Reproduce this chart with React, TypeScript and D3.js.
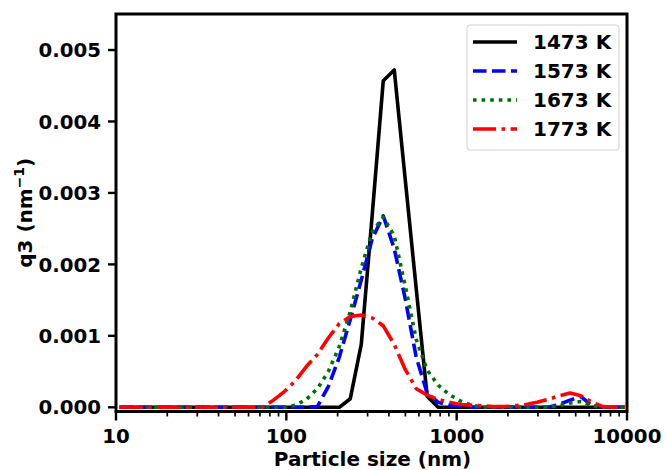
import React from "react";
import * as d3 from "d3";

// Particle sizes (nm) of the measurement bins
const sizes = [10.5, 12.18, 14.13, 16.39, 19.01, 22.06, 25.59, 29.69, 34.43, 39.95, 46.34, 53.77, 62.37, 72.36, 83.95, 97.39, 113.0, 131.1, 152.1, 176.4, 204.6, 237.4, 275.4, 319.5, 370.7, 430.1, 498.9, 578.8, 671.4, 778.9, 903.6, 1048, 1216, 1411, 1637, 1899, 2203, 2556, 2965, 3440, 3990, 4629, 5370, 6230, 7228, 8385, 9727];

const q1473 = [0, 0, 0, 0, 0, 0, 0, 0, 0, 0, 0, 0, 0, 0, 0, 0, 0, 0, 0, 0, 0, 0.00012, 0.00088, 0.0027, 0.00457, 0.00472, 0.00319, 0.00166, 0.00015, 0, 0, 0, 0, 0, 0, 0, 0, 0, 0, 0, 0, 0, 0, 0, 0, 0, 0];
const q1573 = [0, 0, 0, 0, 0, 0, 0, 0, 0, 0, 0, 0, 0, 0, 0, 0, 0, 0, 0.00001, 0.00029, 0.0007, 0.00123, 0.00178, 0.00236, 0.00268, 0.00222, 0.00152, 0.0007, 0.0002, 0.00007, 0.00003, 0.00001, 0, 0, 0, 0, 0, 0, 0, 0, 0.00004, 0.0001, 0.00015, 0.00002, 0, 0, 0];
const q1673 = [0, 0, 0, 0, 0, 0, 0, 0, 0, 0, 0, 0, 0, 0, 0, 0, 0.00003, 0.00011, 0.00026, 0.0005, 0.00085, 0.00134, 0.00195, 0.00246, 0.00266, 0.0024, 0.0017, 0.00095, 0.00052, 0.00031, 0.00018, 0.00009, 0.00003, 0, 0, 0, 0, 0, 0, 0, 0.00002, 0.00006, 0.00008, 0.00002, 0, 0, 0];
const q1773 = [0, 0, 0, 0, 0, 0, 0, 0, 0, 0, 0, 0, 0, 0, 0.0001, 0.00022, 0.00037, 0.00057, 0.00074, 0.00097, 0.00117, 0.00127, 0.00129, 0.00125, 0.00114, 0.00088, 0.00053, 0.00026, 0.00017, 0.00011, 0.00007, 0.00004, 0.00003, 0.00002, 0.00001, 0.00001, 0.00002, 0.00004, 0.00007, 0.00011, 0.00016, 0.0002, 0.00016, 0.00007, 0.00001, 0, 0];

const seriesNames = ["1473 K", "1573 K", "1673 K", "1773 K"];
const yTicks = [0, 0.001, 0.002, 0.003, 0.004, 0.005];
const xTicks = [10, 100, 1000, 10000];

const styles = [
  { color: "#000000", dash: "" },
  { color: "#0000ff", dash: "13.5,5.5" },
  { color: "#007000", dash: "3.6,5" },
  { color: "#ff0000", dash: "23,5.5,3.6,5.5" },
];

const W = 667, H = 470;
const L = 116, R = 627, T = 14, B = 411.5;
const FONT = "'DejaVu Sans', sans-serif";
const LW = 3.6;

export default function App() {
  const x = d3.scaleLog().domain([10, 10000]).range([L, R]);
  const y = d3.scaleLinear().domain([-0.0000588, 0.005504]).range([B, T]);
  const all = [q1473, q1573, q1673, q1773];
  const line = d3
    .line<number>()
    .x((_, i) => x(sizes[i]))
    .y((v) => y(v));

  const minor: number[] = [];
  for (let dec = 10; dec < 10000; dec *= 10) {
    for (let k = 2; k <= 9; k++) minor.push(dec * k);
  }

  const legX = 467, legY = 25, legW = 152, legH = 125;
  const rowY = [42, 71, 100, 129];

  return (
    <svg
      width={W}
      height={H}
      style={{ position: "fixed", left: 0, top: 0, background: "#fff" }}
      fontFamily={FONT}
      fontWeight="bold"
    >
      <rect x={0} y={0} width={W} height={H} fill="#fff" />
      {all.map((s, i) => (
        <path
          key={i}
          d={line(s) || ""}
          fill="none"
          stroke={styles[i].color}
          strokeWidth={LW}
          strokeDasharray={styles[i].dash || undefined}
          strokeLinejoin="round"
        />
      ))}
      {/* spines */}
      <rect x={L} y={T} width={R - L} height={B - T} fill="none" stroke="#000" strokeWidth={3} />
      {/* y ticks */}
      {yTicks.map((t) => (
        <g key={t}>
          <line x1={L - 8} x2={L} y1={y(t)} y2={y(t)} stroke="#000" strokeWidth={2.4} />
          <text x={101} y={y(t)} dy="0.36em" textAnchor="end" fontSize={19.8}>
            {d3.format(".3f")(t)}
          </text>
        </g>
      ))}
      {/* x ticks */}
      {xTicks.map((t) => (
        <g key={t}>
          <line x1={x(t)} x2={x(t)} y1={B} y2={B + 9} stroke="#000" strokeWidth={2.4} />
          <text x={x(t)} y={443} textAnchor="middle" fontSize={19.8}>
            {t}
          </text>
        </g>
      ))}
      {minor.map((t) => (
        <line key={t} x1={x(t)} x2={x(t)} y1={B} y2={B + 5} stroke="#000" strokeWidth={1.7} />
      ))}
      {/* axis labels */}
      <text x={(L + R) / 2 + 1} y={465.5} textAnchor="middle" fontSize={20}>
        Particle size (nm)
      </text>
      <text
        transform={`translate(32,${(T + B) / 2}) rotate(-90)`}
        textAnchor="middle"
        fontSize={20}
      >
        q3 (nm<tspan dy={-8} fontSize={14}>−1</tspan>
        <tspan dy={8}>)</tspan>
      </text>
      {/* legend */}
      <rect
        x={legX}
        y={legY}
        width={legW}
        height={legH}
        rx={3}
        fill="#fff"
        fillOpacity={0.8}
        stroke="#d0d0d0"
        strokeWidth={1}
      />
      {seriesNames.map((n, i) => (
        <g key={n}>
          <line
            x1={473}
            x2={517}
            y1={rowY[i]}
            y2={rowY[i]}
            stroke={styles[i].color}
            strokeWidth={LW}
            strokeDasharray={styles[i].dash || undefined}
          />
          <text x={533} y={rowY[i]} dy="0.36em" fontSize={20}>
            {n}
          </text>
        </g>
      ))}
    </svg>
  );
}
